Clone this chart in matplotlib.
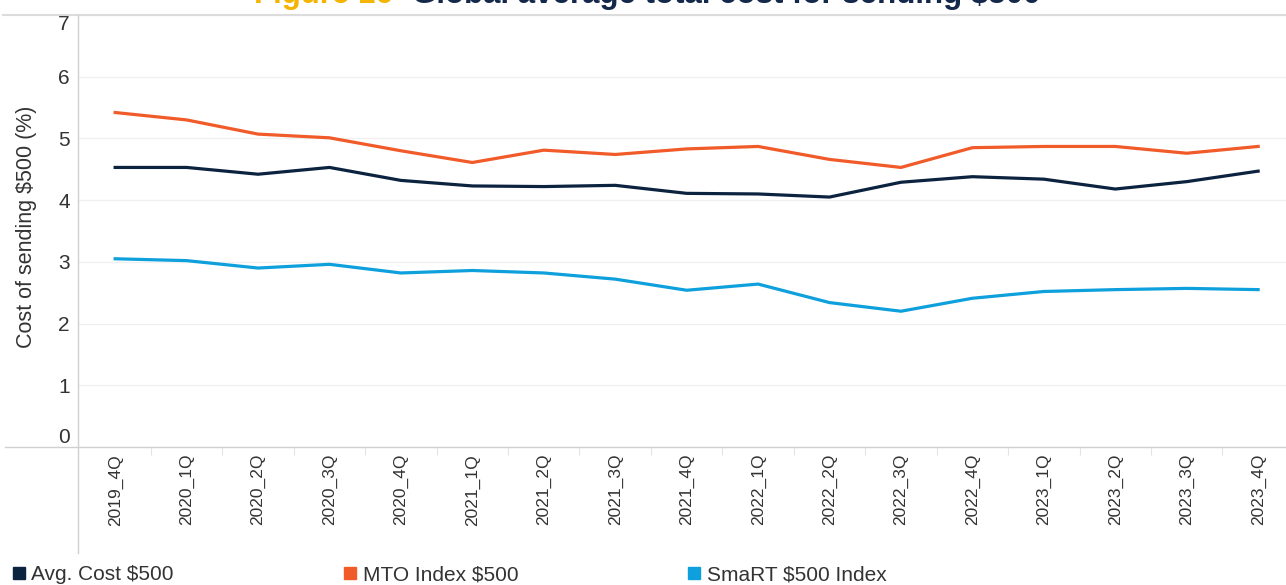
import matplotlib
matplotlib.use('Agg')
import matplotlib.pyplot as plt
from matplotlib.lines import Line2D

plt.rcParams['font.family'] = ['Liberation Sans', 'DejaVu Sans']

quarters = ['2019_4Q', '2020_1Q', '2020_2Q', '2020_3Q', '2020_4Q', '2021_1Q',
            '2021_2Q', '2021_3Q', '2021_4Q', '2022_1Q', '2022_2Q', '2022_3Q',
            '2022_4Q', '2023_1Q', '2023_2Q', '2023_3Q', '2023_4Q']
avg_cost = [4.53, 4.53, 4.42, 4.53, 4.32, 4.23, 4.22, 4.24, 4.11, 4.10, 4.05,
            4.29, 4.38, 4.34, 4.18, 4.30, 4.47]
mto_index = [5.42, 5.30, 5.07, 5.01, 4.80, 4.61, 4.81, 4.74, 4.83, 4.87, 4.66,
             4.53, 4.85, 4.87, 4.87, 4.76, 4.87]
smart_index = [3.05, 3.02, 2.90, 2.96, 2.82, 2.86, 2.82, 2.72, 2.54, 2.64, 2.34,
               2.20, 2.41, 2.52, 2.55, 2.57, 2.55]
yticks = [0, 1, 2, 3, 4, 5, 6, 7]

navy = '#0c2340'
orange = '#f15a29'
cyan = '#0ea0dc'
axis_gray = '#d0d0d0'

W, H = 1286, 585
fig = plt.figure(figsize=(W / 100, H / 100), dpi=100)
ax = fig.add_axes([78 / W, (H - 447) / H, (W - 78) / W, (447 - 15) / H])

x = range(len(quarters))
ax.plot(x, avg_cost, color=navy, lw=2.3, label='Avg. Cost $500')
ax.plot(x, mto_index, color=orange, lw=2.3, label='MTO Index $500')
ax.plot(x, smart_index, color=cyan, lw=2.3, label='SmaRT $500 Index')

ax.set_xlim(-0.52, 16.39)
ax.set_ylim(0, 7)
ax.set_yticks(yticks)
ax.set_yticklabels([str(v) for v in yticks])
ax.set_xticks(list(x))
ax.set_xticklabels(quarters, rotation=90, fontsize=12.5, color='#333333')
ax.set_xticks([i + 0.5 for i in range(len(quarters) - 1)], minor=True)
ax.tick_params(axis='x', which='major', length=0, pad=5)
ax.tick_params(axis='x', which='minor', length=6, color='#e4e4e4', width=0.8)
ax.tick_params(axis='y', length=0, pad=6, labelsize=15, labelcolor='#333333')
ylab = ax.get_yticklabels()
ylab[0].set_va('bottom')
ylab[-1].set_va('top')

ax.grid(axis='y', color='#f0f0f0', lw=1)
ax.set_axisbelow(True)
for s in ax.spines.values():
    s.set_visible(False)

ax.set_ylabel('Cost of sending $500 (%)', fontsize=15.5, color='#333333')
ax.yaxis.set_label_coords(-41 / (W - 78), (447 - 227) / (447 - 15))

# frame lines of the worksheet
fig.add_artist(Line2D([3 / W, 1], [1 - 15 / H, 1 - 15 / H], transform=fig.transFigure,
                      color='#dcdcdc', lw=1.5))
fig.add_artist(Line2D([5 / W, 1], [1 - 447 / H, 1 - 447 / H], transform=fig.transFigure,
                      color=axis_gray, lw=1))
fig.add_artist(Line2D([78 / W, 78 / W], [1 - 15 / H, 1 - 553 / H], transform=fig.transFigure,
                      color=axis_gray, lw=1))

# title, clipped at the top like the reference
fig.text(254 / W, 1 - 3 / H, 'Figure 16', fontsize=22.5, fontweight='bold',
         color='#f5b400', va='baseline')
fig.text(412 / W, 1 - 3 / H, 'Global average total cost for sending $500', fontsize=22.5,
         fontweight='bold', color='#14284b', va='baseline')

handles = [Line2D([], [], ls='none', marker='s', markersize=9, color=c)
           for c in (navy, orange, cyan)]
fig.legend(handles, ['Avg. Cost $500', 'MTO Index $500', 'SmaRT $500 Index'],
           loc='lower left', bbox_to_anchor=(-6 / W, -18 / H), ncol=3, frameon=False,
           fontsize=15, handlelength=0.6, handletextpad=0.3, columnspacing=8.15,
           labelcolor='#333333')

fig.savefig('out.png', dpi=100, facecolor='white')
